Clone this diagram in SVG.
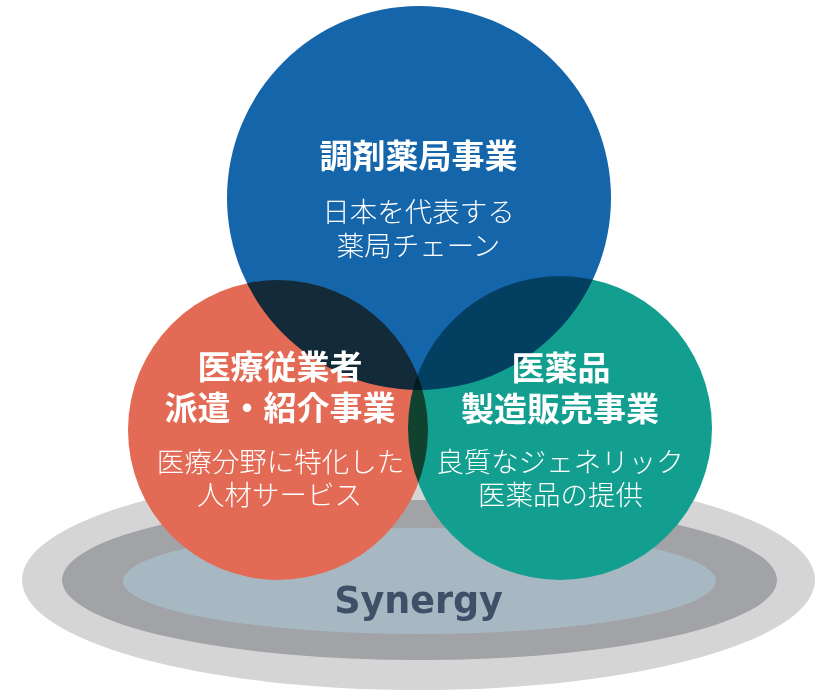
<svg xmlns="http://www.w3.org/2000/svg" width="825" height="693" viewBox="0 0 825 693">
<style>
  .t { font-family: "Noto Sans CJK JP", "Noto Sans", sans-serif; fill: #ffffff; text-anchor: middle; }
  .h { font-size: 33px; font-weight: 700; }
  .s { font-size: 27.5px; font-weight: 300; }
  .c { mix-blend-mode: multiply; }
  .syn { font-family: "DejaVu Sans", Verdana, sans-serif; font-weight: 700; font-size: 36.5px; fill: #3d5068; text-anchor: middle; }
</style>
<rect width="825" height="693" fill="#ffffff"/>
<g id="synergy-base">
  <ellipse cx="418.5" cy="580" rx="396.5" ry="110" fill="#d6d5d6"/>
  <ellipse cx="419.5" cy="580" rx="357.5" ry="80" fill="#a2a3a7"/>
  <ellipse cx="419.5" cy="581" rx="296.5" ry="53" fill="#a7b8c2"/>
  <text class="syn" x="418.5" y="613">Synergy</text>
</g>
<g id="circles" style="isolation:isolate">
  <g id="node-dispensing">
    <circle class="c" cx="419" cy="198" r="192" fill="#1565ab"/>
    <text class="t h" x="418.5" y="168">調剤薬局事業</text>
    <text class="t s" x="418.5" y="222">日本を代表する</text>
    <text class="t s" x="418.5" y="256">薬局チェーン</text>
  </g>
  <g id="node-staffing">
    <circle class="c" cx="278" cy="430" r="150" fill="#e36a54"/>
    <text class="t h" x="280" y="379">医療従業者</text>
    <text class="t h" x="280" y="420">派遣・紹介事業</text>
    <text class="t s" x="280.5" y="472">医療分野に特化した</text>
    <text class="t s" x="279.5" y="505">人材サービス</text>
  </g>
  <g id="node-pharma">
    <circle class="c" cx="560" cy="428" r="152" fill="#129f8f"/>
    <text class="t h" x="561" y="379.5">医薬品</text>
    <text class="t h" x="560" y="421">製造販売事業</text>
    <text class="t s" x="560" y="472">良質なジェネリック</text>
    <text class="t s" x="560.5" y="505">医薬品の提供</text>
  </g>
</g>
<g id="connectors"></g>
</svg>
